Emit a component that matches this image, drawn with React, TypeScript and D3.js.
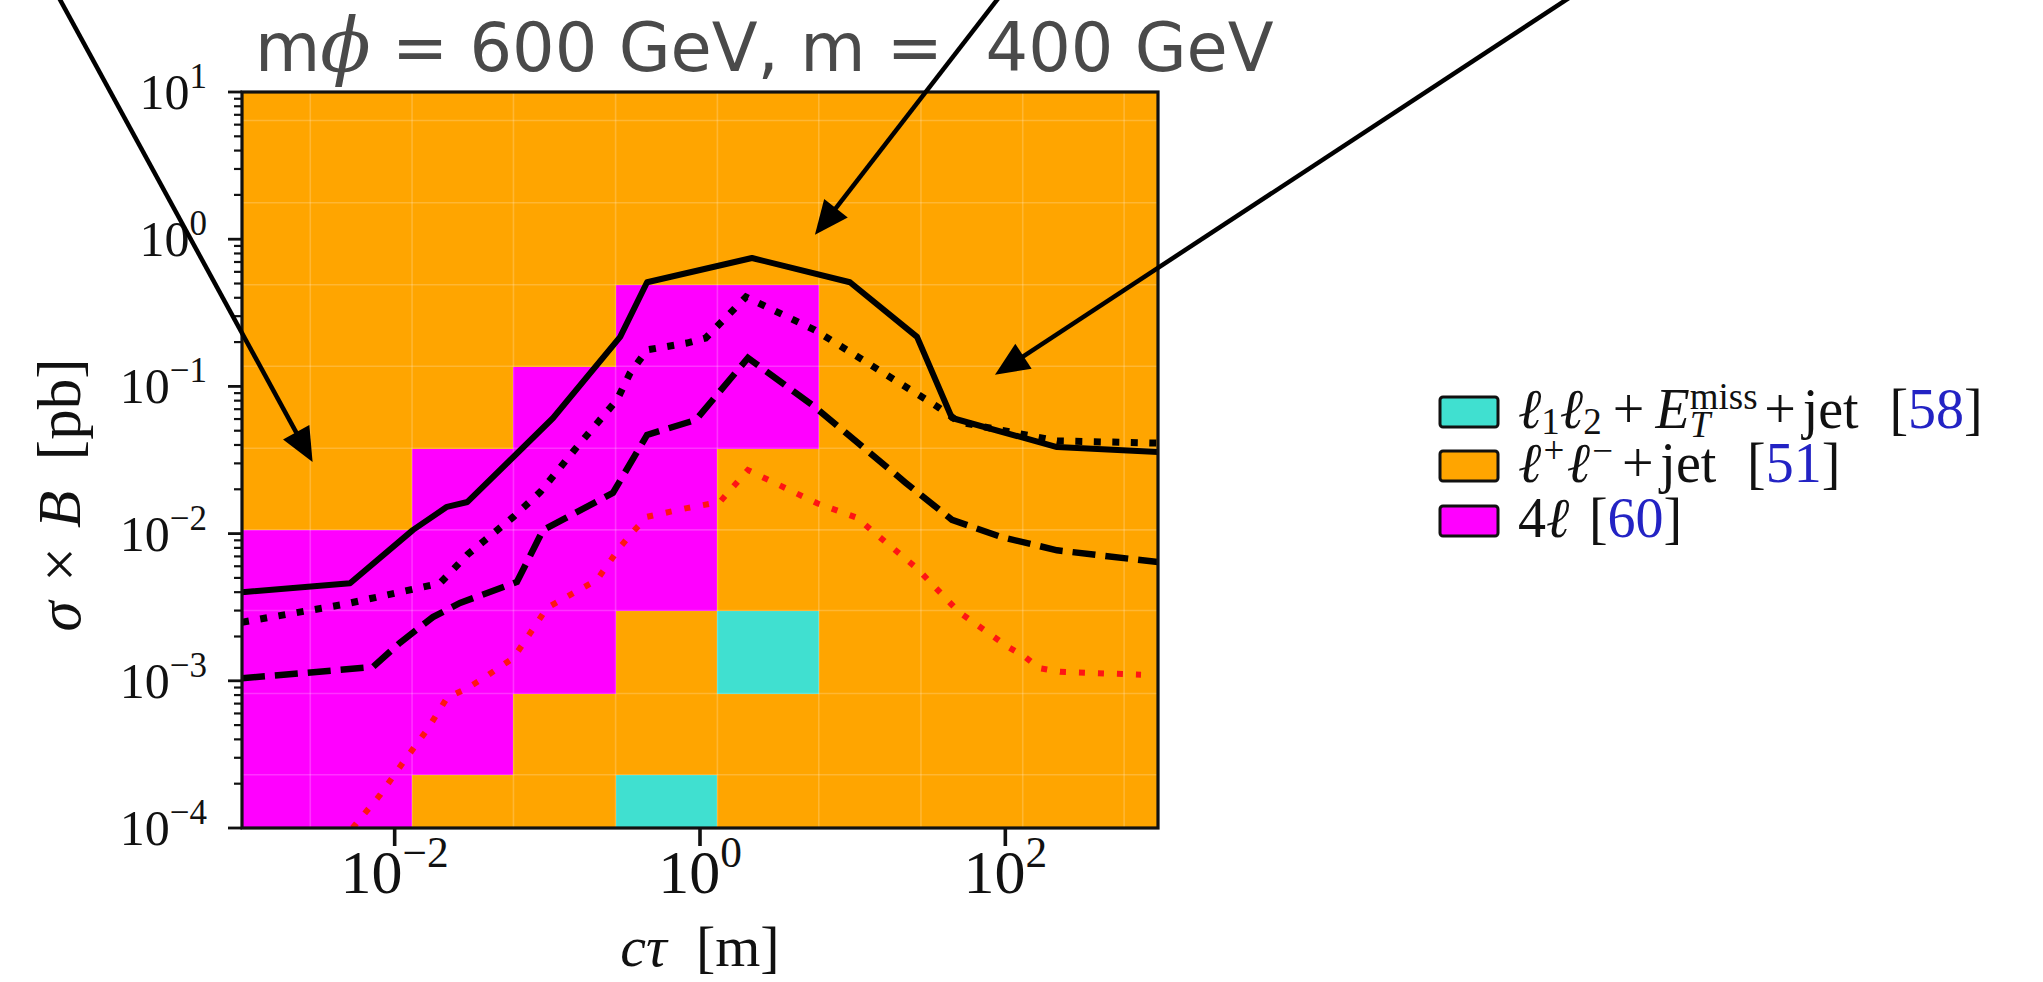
import React, { useEffect, useRef } from 'react';
import * as d3 from 'd3';

// ---- data ----
const ctauDomain = [1e-3, 1e3];
const sigmaDomain = [1e-4, 1e1];

const xTickVals = [1e-2, 1e0, 1e2];
const xTickExp = ['−2', '0', '2'];
const yTickVals = [1e-4, 1e-3, 1e-2, 1e-1, 1e0, 1e1];
const yTickExp = ['−4', '−3', '−2', '−1', '0', '1'];

// bin edges of the coverage map
const ctauEdges = [0.001, 0.0028, 0.013, 0.06, 0.28, 1.3, 6, 28, 130, 600, 1000];
const sigmaEdges = [1e-4, 2.3e-4, 8.2e-4, 3.0e-3, 0.0106, 0.038, 0.137, 0.49, 1.77, 6.4, 10];

// best channel per cell, one string per ctau bin, bottom row first
// C = l1l2+MET+jet, O = l+l-+jet, M = 4l
const cellColumns = [
  'MMMMOOOOOO',
  'MMMMOOOOOO',
  'OMMMMOOOOO',
  'OOMMMMOOOO',
  'COOMMMMOOO',
  'OOCOOMMOOO',
  'OOOOOOOOOO',
  'OOOOOOOOOO',
  'OOOOOOOOOO',
  'OOOOOOOOOO',
];

const channelCodes = ['C', 'O', 'M'];
const channelColors = ['#40e0d0', '#ffa500', '#ff00ff'];
const channelRefs = ['58', '51', '60'];

// curves
const solidCtau = [0.001, 0.0051, 0.0132, 0.022, 0.03, 0.109, 0.3, 0.45, 2.19, 9.6, 26.4, 44.7, 218, 1000];
const solidSigma = [0.004, 0.0046, 0.0106, 0.0152, 0.0164, 0.061, 0.217, 0.51, 0.745, 0.51, 0.217, 0.061, 0.0387, 0.0358];

const dotCtau = [0.001, 0.0046, 0.0108, 0.0198, 0.03, 0.06, 0.09, 0.156, 0.286, 0.348, 0.45, 0.82, 1.09, 2.0, 5.66, 36.2, 49.7, 218, 1000];
const dotSigma = [0.0025, 0.0033, 0.004, 0.0046, 0.0072, 0.013, 0.0192, 0.0387, 0.081, 0.123, 0.177, 0.197, 0.213, 0.405, 0.2415, 0.0724, 0.0573, 0.0426, 0.0412];

const dashCtau = [0.001, 0.0072, 0.0108, 0.0178, 0.0268, 0.0632, 0.0937, 0.269, 0.45, 0.94, 2.06, 5.66, 22.3, 44.7, 93.5, 218, 1000];
const dashSigma = [0.00104, 0.00124, 0.00181, 0.00271, 0.00338, 0.00469, 0.01057, 0.0189, 0.0468, 0.0592, 0.156, 0.0724, 0.0221, 0.0124, 0.0095, 0.0077, 0.0064];

const redCtau = [0.0053, 0.008, 0.0113, 0.0163, 0.022, 0.03, 0.038, 0.06, 0.0855, 0.0995, 0.211, 0.3, 0.364, 0.45, 0.82, 1.35, 2.06, 5.9, 10.7, 13.2, 26.4, 49.7, 104, 135, 166, 228, 774];
const redSigma = [1.0e-4, 1.67e-4, 2.77e-4, 4.64e-4, 7.64e-4, 8.93e-4, 1.04e-3, 1.43e-3, 2.47e-3, 3.13e-3, 4.84e-3, 8.11e-3, 1.03e-2, 1.3e-2, 1.49e-2, 1.64e-2, 2.7e-2, 1.6e-2, 1.28e-2, 1.06e-2, 5.8e-3, 2.93e-3, 1.7e-3, 1.45e-3, 1.22e-3, 1.15e-3, 1.1e-3];

// annotation arrows: tip in data coords, tail at the top edge of the page
const arrowTipCtau = [0.0029, 5.66, 85.5];
const arrowTipSigma = [0.0306, 1.07, 0.12];
const arrowTailX = [58, 1000, 1572];

const SERIF = "'Liberation Serif', 'DejaVu Serif', serif";

// pad = extra room on both sides (em) like TeX round binary operators, padL = only before
type Seg = { t: string; it?: boolean; sc?: number; rise?: number; fill?: string; over?: boolean; pad?: number; padL?: number };

// lays out a tiny bit of "math" text piece by piece
function drawMath(parent: any, segs: Seg[], fs: number) {
  const g = parent.append('g');
  let cursor = 0, lastStart = 0;
  segs.forEach((s) => {
    const pad = (s.pad || 0) * fs;
    const sx = s.over ? lastStart : cursor + pad + (s.padL || 0) * fs;
    const node = g.append('text')
      .attr('x', sx)
      .attr('y', -(s.rise || 0) * fs)
      .attr('font-family', SERIF)
      .attr('font-size', fs * (s.sc || 1))
      .attr('font-style', s.it ? 'italic' : 'normal')
      .attr('fill', s.fill || '#111')
      .style('white-space', 'pre')
      .text(s.t)
      .node();
    const w = node.getComputedTextLength();
    lastStart = sx;
    cursor = Math.max(cursor, sx + w + pad);
  });
  return { g, width: cursor };
}

export default function App() {
  const ref = useRef<SVGSVGElement>(null);

  useEffect(() => {
    const svg = d3.select(ref.current);
    svg.selectAll('*').remove();

    const left = 242, right = 1158, top = 92, bottom = 828;
    const x = d3.scaleLog().domain(ctauDomain).range([left, right]);
    const y = d3.scaleLog().domain(sigmaDomain).range([bottom, top]);

    svg.append('defs').append('clipPath').attr('id', 'plotclip')
      .append('rect').attr('x', left).attr('y', top).attr('width', right - left).attr('height', bottom - top);

    // cells
    const cells = svg.append('g').attr('shape-rendering', 'crispEdges');
    cellColumns.forEach((col, i) => {
      col.split('').forEach((code, j) => {
        cells.append('rect')
          .attr('x', x(ctauEdges[i]))
          .attr('y', y(sigmaEdges[j + 1]))
          .attr('width', x(ctauEdges[i + 1]) - x(ctauEdges[i]) + 0.5)
          .attr('height', y(sigmaEdges[j]) - y(sigmaEdges[j + 1]) + 0.5)
          .attr('fill', channelColors[channelCodes.indexOf(code)]);
      });
    });

    // faint grid on the bin edges
    const grid = svg.append('g').attr('stroke', '#fff').attr('stroke-opacity', 0.2).attr('stroke-width', 1.6);
    ctauEdges.slice(1, -1).forEach((v) => {
      grid.append('line').attr('x1', x(v)).attr('x2', x(v)).attr('y1', top).attr('y2', bottom);
    });
    sigmaEdges.slice(1, -1).forEach((v) => {
      grid.append('line').attr('x1', left).attr('x2', right).attr('y1', y(v)).attr('y2', y(v));
    });

    // curves
    const line = d3.line<number[]>().x((d) => x(d[0])).y((d) => y(d[1]));
    const curves = svg.append('g').attr('clip-path', 'url(#plotclip)').attr('fill', 'none');
    const zip = (a: number[], b: number[]) => a.map((v, i) => [v, b[i]]);

    curves.append('path').attr('d', line(zip(redCtau, redSigma)))
      .attr('stroke', '#ff1414').attr('stroke-width', 6).attr('stroke-dasharray', '6 13');
    curves.append('path').attr('d', line(zip(dashCtau, dashSigma)))
      .attr('stroke', '#000').attr('stroke-width', 6.5).attr('stroke-dasharray', '23 10');
    curves.append('path').attr('d', line(zip(dotCtau, dotSigma)))
      .attr('stroke', '#000').attr('stroke-width', 7).attr('stroke-dasharray', '7 11.5');
    curves.append('path').attr('d', line(zip(solidCtau, solidSigma)))
      .attr('stroke', '#000').attr('stroke-width', 6).attr('stroke-linejoin', 'round');

    // frame
    svg.append('rect').attr('x', left).attr('y', top).attr('width', right - left).attr('height', bottom - top)
      .attr('fill', 'none').attr('stroke', '#111').attr('stroke-width', 3.2);

    // ticks
    const ax = svg.append('g').attr('stroke', '#111');
    yTickVals.forEach((v) => {
      ax.append('line').attr('x1', left - 14).attr('x2', left).attr('y1', y(v)).attr('y2', y(v)).attr('stroke-width', 2.8);
    });
    yTickVals.slice(0, -1).forEach((v) => {
      d3.range(2, 10).forEach((k) => {
        ax.append('line').attr('x1', left - 8).attr('x2', left).attr('y1', y(v * k)).attr('y2', y(v * k)).attr('stroke-width', 2.2);
      });
    });
    xTickVals.forEach((v) => {
      ax.append('line').attr('x1', x(v)).attr('x2', x(v)).attr('y1', bottom).attr('y2', bottom + 18).attr('stroke-width', 3.6);
    });

    // tick labels
    yTickVals.forEach((v, i) => {
      const m = drawMath(svg, [{ t: '10' }, { t: yTickExp[i], sc: 0.7, rise: 0.42 }], 50);
      m.g.attr('transform', `translate(${207 - m.width},${y(v) + 17})`);
    });
    xTickVals.forEach((v, i) => {
      const m = drawMath(svg, [{ t: '10' }, { t: xTickExp[i], sc: 0.7, rise: 0.42 }], 62);
      m.g.attr('transform', `translate(${x(v) - m.width / 2},893)`);
    });

    // axis titles
    const xl = drawMath(svg, [{ t: 'cτ', it: true }, { t: '  [m]' }], 58);
    xl.g.attr('transform', `translate(${(left + right) / 2 - xl.width / 2},966)`);
    const yg = svg.append('g').attr('transform', `translate(80,495) rotate(-90)`);
    const yl = drawMath(yg, [{ t: 'σ', it: true }, { t: '×', pad: 0.32 }, { t: 'B', it: true }, { t: '[pb]', padL: 0.5 }], 61);
    yl.g.attr('transform', `translate(${-yl.width / 2},0)`);

    // legend
    const blue = '#2323c4';
    const sub = -0.1, sup = 0.34, ss = 0.66;
    const legendLabels: Seg[][] = [
      [{ t: 'ℓ', it: true }, { t: '1', sc: ss, rise: sub }, { t: 'ℓ', it: true }, { t: '2', sc: ss, rise: sub },
        { t: '+', pad: 0.2 }, { t: 'E', it: true }, { t: 'miss', sc: ss, rise: sup }, { t: 'T', it: true, sc: ss, rise: -0.16, over: true },
        { t: '+', pad: 0.12 }, { t: 'jet' }, { t: '[', padL: 0.55 }, { t: channelRefs[0], fill: blue }, { t: ']' }],
      [{ t: 'ℓ', it: true }, { t: '+', sc: ss, rise: sup, pad: 0.04 }, { t: 'ℓ', it: true }, { t: '−', sc: ss, rise: sup, pad: 0.04 },
        { t: '+', pad: 0.12 }, { t: 'jet' }, { t: '[', padL: 0.55 }, { t: channelRefs[1], fill: blue }, { t: ']' }],
      [{ t: '4' }, { t: 'ℓ', it: true }, { t: '[', padL: 0.35 }, { t: channelRefs[2], fill: blue }, { t: ']' }],
    ];
    const legendRowY = [412, 466, 521];
    legendLabels.forEach((segs, i) => {
      svg.append('rect').attr('x', 1440).attr('y', legendRowY[i] - 15).attr('width', 58).attr('height', 30)
        .attr('rx', 3).attr('fill', channelColors[i]).attr('stroke', '#111').attr('stroke-width', 3);
      const m = drawMath(svg, segs, 56);
      m.g.attr('transform', `translate(1518,${legendRowY[i] + 16})`);
    });

    // title
    const title = svg.append('text').attr('x', 255).attr('y', 71)
      .attr('font-family', "'DejaVu Sans', sans-serif").attr('font-size', 67).attr('fill', '#4a4a4a')
      .attr('xml:space', 'preserve').style('white-space', 'pre');
    title.append('tspan').text('m');
    title.append('tspan').attr('font-family', "'DejaVu Serif', serif").attr('font-style', 'italic')
      .attr('font-size', 74).text('ϕ');
    title.append('tspan').text(' = 600 GeV, m =  400 GeV');

    // arrows
    arrowTailX.forEach((tx, i) => {
      const px = x(arrowTipCtau[i]), py = y(arrowTipSigma[i]);
      const dx = px - tx, dy = py - 0, len = Math.hypot(dx, dy);
      const ux = dx / len, uy = dy / len;
      const hl = 34, hw = 15;
      const bx = px - ux * hl, by = py - uy * hl;
      svg.append('line').attr('x1', tx).attr('y1', -4).attr('x2', bx + ux * 2).attr('y2', by + uy * 2)
        .attr('stroke', '#000').attr('stroke-width', 4.5);
      svg.append('polygon')
        .attr('points', [[px, py], [bx - uy * hw, by + ux * hw], [bx + uy * hw, by - ux * hw]].map((p) => p.join(',')).join(' '))
        .attr('fill', '#000');
    });
  }, []);

  return (
    <svg ref={ref} width={2043} height={982}
      style={{ position: 'absolute', left: 0, top: 0, display: 'block', background: '#fff' }} />
  );
}
